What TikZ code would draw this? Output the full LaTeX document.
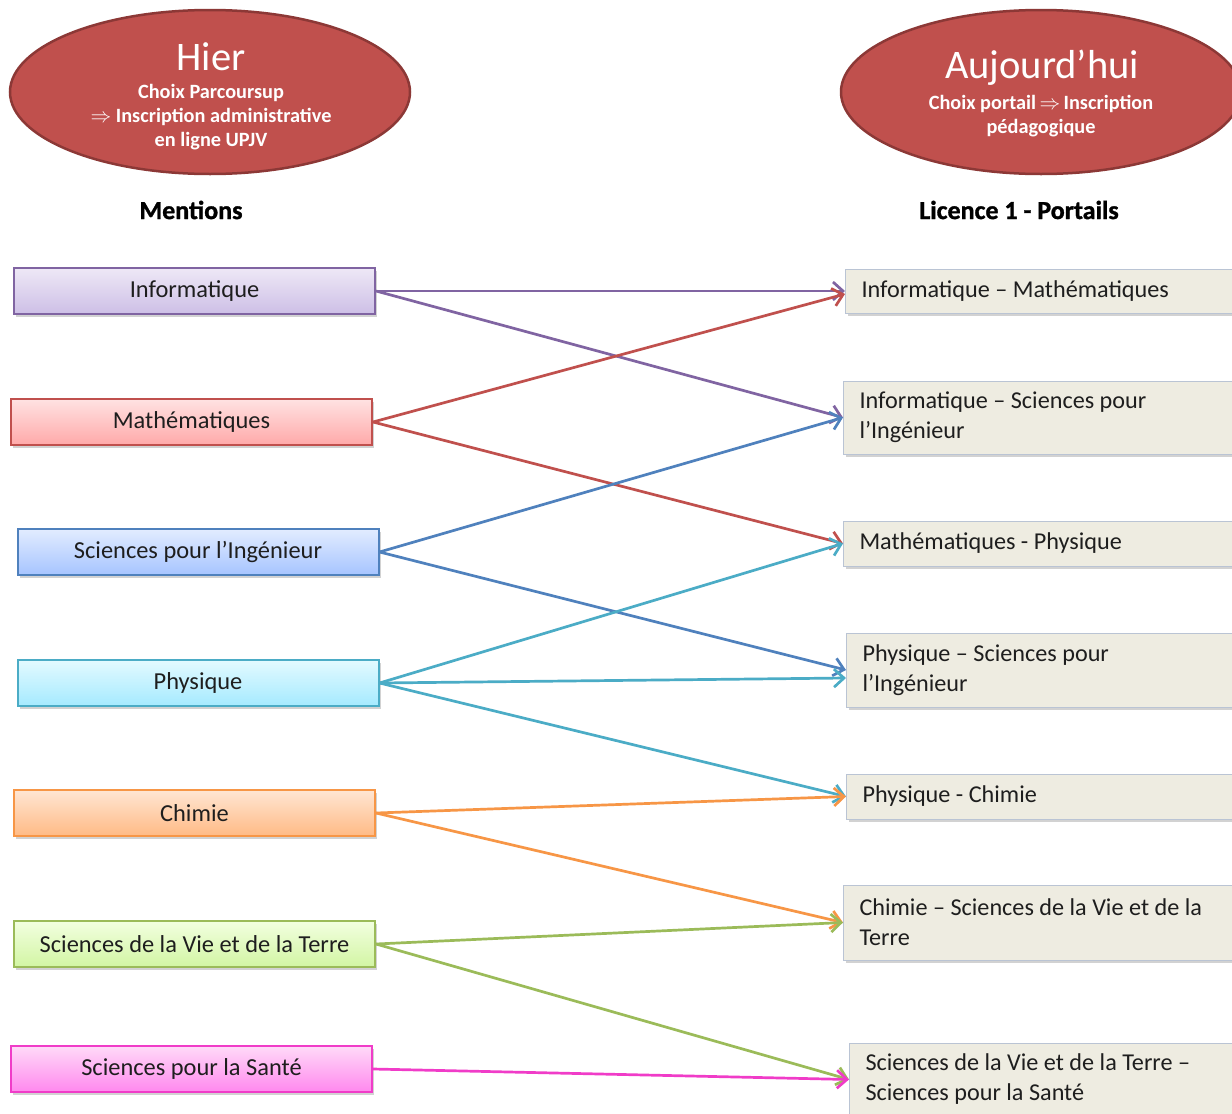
\documentclass[tikz,border=0pt]{standalone}
\usepackage{fontspec}
\setmainfont{Carlito}
\newfontfamily\headfont{Carlito}[FakeBold=1.2]
\usetikzlibrary{arrows.meta,shadows,shapes.geometric}

\definecolor{ovalfill}{HTML}{C0504D}
\definecolor{ovaldraw}{HTML}{8C3836}
\definecolor{portfill}{HTML}{EEECE1}
\definecolor{portdraw}{HTML}{BAC4D4}
\definecolor{txt}{HTML}{1E1E1E}
\definecolor{cInfo}{HTML}{8064A2}
\definecolor{cMath}{HTML}{C0504D}
\definecolor{cSpi}{HTML}{4F81BD}
\definecolor{cPhys}{HTML}{4BACC6}
\definecolor{cChim}{HTML}{F79646}
\definecolor{cSvt}{HTML}{9BBB59}
\definecolor{cSante}{HTML}{F03CC8}
% gradient ends of the mention boxes
\definecolor{tInfo}{HTML}{EEE8F6}\definecolor{bInfo}{HTML}{CDBFE6}
\definecolor{tMath}{HTML}{FFE2E2}\definecolor{bMath}{HTML}{FFA9A9}
\definecolor{tSpi}{HTML}{E2ECFF}\definecolor{bSpi}{HTML}{A6C4FF}
\definecolor{tPhys}{HTML}{E3FAFF}\definecolor{bPhys}{HTML}{A5EAFF}
\definecolor{tChim}{HTML}{FFE6D3}\definecolor{bChim}{HTML}{FFBA85}
\definecolor{tSvt}{HTML}{F2FFE0}\definecolor{bSvt}{HTML}{D2F5A3}
\definecolor{tSante}{HTML}{FFDAF8}\definecolor{bSante}{HTML}{FF88EE}

\tikzset{
  oval/.style={ellipse, draw=ovaldraw, line width=2.5pt, fill=ovalfill,
    minimum width=400pt, minimum height=164pt, inner sep=0pt},
  ovaltitle/.style={text=white, font=\fontsize{40.5}{42}\selectfont},
  ovalsub/.style={text=white, font=\bfseries\fontsize{20.3}{24}\selectfont, align=center},
  header/.style={font=\headfont\bfseries\fontsize{26}{30}\selectfont, text=black},
  mention/.style={draw=c#1, top color=t#1, bottom color=b#1, line width=2pt,
    minimum width=361pt, minimum height=46pt,
    inner sep=0pt, text=txt, font=\fontsize{24.4}{28}\selectfont,
    drop shadow={opacity=0.35, shadow xshift=2pt, shadow yshift=-3pt}},
  portail/.style={draw=portdraw, line width=1pt, fill=portfill, anchor=west,
    minimum width=420pt, minimum height=#1, inner xsep=16pt, inner ysep=0pt,
    text width=388pt, align=flush left, text=txt, font=\fontsize{24.2}{30}\selectfont,
    drop shadow={opacity=0.35, shadow xshift=2pt, shadow yshift=-3pt}},
  link/.style={draw=#1, line width=2.7pt,
    -{Straight Barb[length=10pt,width=18pt]}},
}

\begin{document}
\begin{tikzpicture}[x=1pt,y=-1pt]
\useasboundingbox (0,0) rectangle (1232,1114);
\clip (0,0) rectangle (1232,1114);
\fill[white] (0,0) rectangle (1232,1114);

% --- the two ovals: before / now ---
\node[oval] (hier) at (210,92) {};
\node[ovaltitle] (hierT) at (211,57) {Hier};
\node[ovalsub] (hierS) at (211,117) {Choix Parcoursup\\$\Rightarrow$\ Inscription administrative\\en ligne UPJV};

\node[oval] (auj) at (1041,92) {};
\node[ovaltitle] (aujT) at (1042,68) {Aujourd’hui};
\node[ovalsub] (aujS) at (1041,116) {Choix portail$\,\Rightarrow$\,Inscription\\pédagogique};

% --- column headers ---
\node[header] (hm) at (191,210) {Mentions};
\node[header] (hp) at (1019,210) {Licence 1 - Portails};

% --- mentions (left column) ---
\node[mention=Info] (m1) at (194.5,291) {Informatique};
\node[mention=Math] (m2) at (191.5,422) {Mathématiques};
\node[mention=Spi] (m3) at (198,552) {Sciences pour l’Ingénieur};
\node[mention=Phys] (m4) at (198,683) {Physique};
\node[mention=Chim] (m5) at (194.5,813) {Chimie};
\node[mention=Svt] (m6) at (194.5,944) {Sciences de la Vie et de la Terre};
\node[mention=Sante] (m7) at (191.5,1069) {Sciences pour la Santé};

% --- portails (right column) ---
\node[portail=44pt] (p1) at (845,291) {Informatique – Mathématiques};
\node[portail=73pt] (p2) at (843,417.5) {Informatique – Sciences pour\\l’Ingénieur};
\node[portail=45pt] (p3) at (843,543.5) {Mathématiques - Physique};
\node[portail=74pt] (p4) at (846,670) {Physique – Sciences pour\\l’Ingénieur};
\node[portail=45pt] (p5) at (846,796.5) {Physique - Chimie};
\node[portail=75pt] (p6) at (843,922.5) {Chimie – Sciences de la Vie et de la\\Terre};
\node[portail=73pt] (p7) at (849,1079.5) {Sciences de la Vie et de la Terre –\\Sciences pour la Santé};

% --- links from mentions to portails ---
\draw[link=cInfo] (m1.east) -- (p1.west);
\draw[link=cInfo] (m1.east) -- (p2.west);
\draw[link=cMath] (m2.east) -- ([yshift=-3pt]p1.west);
\draw[link=cMath] (m2.east) -- (p3.west);
\draw[link=cSpi] (m3.east) -- (p2.west);
\draw[link=cSpi] (m3.east) -- (p4.west);
\draw[link=cPhys] (m4.east) -- (p3.west);
\draw[link=cPhys] (m4.east) -- ([yshift=-8pt]p4.west);
\draw[link=cPhys] (m4.east) -- (p5.west);
\draw[link=cChim] (m5.east) -- (p5.west);
\draw[link=cChim] (m5.east) -- (p6.west);
\draw[link=cSvt] (m6.east) -- (p6.west);
\draw[link=cSvt] (m6.east) -- (p7.west);
\draw[link=cSante] (m7.east) -- (p7.west);
\end{tikzpicture}
\end{document}
